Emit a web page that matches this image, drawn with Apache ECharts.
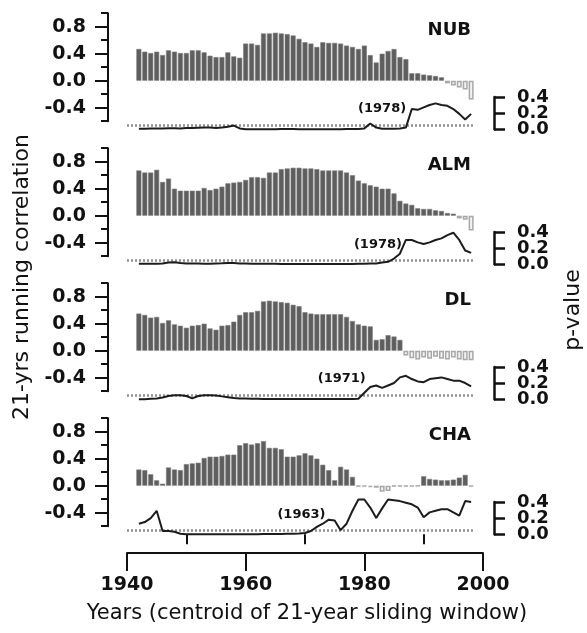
<!DOCTYPE html>
<html><head><meta charset="utf-8">
<script src="https://cdn.jsdelivr.net/npm/echarts@6/dist/echarts.min.js"></script>
<style>html,body{margin:0;padding:0;background:#fff}#c{width:587px;height:633px}</style>
</head><body><div id="c"></div>
<script>
// ---- data ----
const years = [1942,1943,1944,1945,1946,1947,1948,1949,1950,1951,1952,1953,1954,1955,1956,1957,1958,1959,
  1960,1961,1962,1963,1964,1965,1966,1967,1968,1969,1970,1971,1972,1973,1974,1975,1976,1977,1978,1979,
  1980,1981,1982,1983,1984,1985,1986,1987,1988,1989,1990,1991,1992,1993,1994,1995,1996,1997,1998];

const sites = ['NUB','ALM','DL','CHA'];

const nubCorr = [0.47,0.43,0.41,0.43,0.38,0.45,0.43,0.41,0.41,0.45,0.45,0.42,0.37,0.35,0.35,0.42,0.36,0.34,
  0.55,0.55,0.53,0.70,0.70,0.71,0.70,0.69,0.67,0.62,0.57,0.55,0.50,0.57,0.56,0.56,0.55,0.52,0.50,0.47,
  0.52,0.38,0.27,0.40,0.44,0.47,0.35,0.32,0.11,0.11,0.09,0.08,0.07,0.05,-0.04,-0.07,-0.10,-0.13,-0.28];
const nubP = [0.005,0.005,0.008,0.01,0.01,0.012,0.012,0.01,0.015,0.015,0.018,0.02,0.02,0.015,0.02,0.03,0.045,0.01,
  0.0,0.0,0.0,0.0,0.0,0.0,0.002,0.002,0.002,0.0,0.0,0.0,0.0,0.0,0.0,0.0,0.0,0.002,0.002,0.003,
  0.01,0.07,0.02,0.005,0.005,0.005,0.008,0.02,0.25,0.24,0.27,0.30,0.32,0.30,0.29,0.25,0.19,0.12,0.19];

const almCorr = [0.67,0.64,0.64,0.68,0.50,0.55,0.40,0.37,0.37,0.37,0.37,0.41,0.38,0.40,0.43,0.48,0.49,0.50,
  0.53,0.57,0.57,0.56,0.64,0.64,0.69,0.70,0.71,0.71,0.70,0.70,0.69,0.67,0.67,0.67,0.67,0.64,0.60,0.52,
  0.48,0.45,0.43,0.40,0.40,0.33,0.22,0.18,0.16,0.11,0.10,0.10,0.08,0.07,0.04,0.03,-0.04,-0.06,-0.22];
const almP = [0.005,0.005,0.005,0.005,0.01,0.02,0.025,0.015,0.01,0.008,0.008,0.006,0.006,0.01,0.012,0.015,0.015,0.01,
  0.008,0.005,0.005,0.005,0.005,0.005,0.003,0.003,0.003,0.003,0.003,0.003,0.003,0.003,0.003,0.003,0.003,0.003,0.003,0.005,
  0.005,0.008,0.01,0.02,0.03,0.07,0.13,0.30,0.30,0.27,0.25,0.27,0.30,0.32,0.36,0.39,0.30,0.17,0.14];

const dlCorr = [0.55,0.53,0.49,0.50,0.41,0.45,0.39,0.37,0.34,0.37,0.38,0.40,0.33,0.31,0.37,0.38,0.43,0.53,
  0.57,0.57,0.59,0.73,0.74,0.73,0.72,0.71,0.68,0.66,0.57,0.55,0.54,0.54,0.54,0.54,0.54,0.50,0.44,0.39,
  0.37,0.36,0.16,0.17,0.23,0.21,0.16,-0.07,-0.11,-0.13,-0.10,-0.12,-0.09,-0.12,-0.13,-0.10,-0.13,-0.14,-0.14];
const dlP = [0.0,0.0,0.005,0.01,0.02,0.04,0.05,0.05,0.04,0.01,0.04,0.05,0.05,0.045,0.035,0.025,0.015,0.01,
  0.008,0.006,0.005,0.004,0.004,0.004,0.004,0.004,0.003,0.003,0.003,0.003,0.003,0.003,0.003,0.003,0.003,0.003,0.004,0.006,
  0.08,0.15,0.17,0.14,0.17,0.20,0.27,0.29,0.25,0.22,0.21,0.25,0.26,0.27,0.25,0.23,0.23,0.20,0.16];

const chaCorr = [0.24,0.23,0.17,0.08,0.03,0.27,0.24,0.23,0.32,0.33,0.34,0.41,0.43,0.43,0.44,0.46,0.46,0.60,
  0.63,0.61,0.63,0.66,0.56,0.56,0.54,0.43,0.43,0.45,0.48,0.45,0.40,0.31,0.23,0.08,0.28,0.24,0.13,-0.01,
  -0.01,-0.02,-0.03,-0.09,-0.08,-0.01,-0.01,-0.01,-0.01,-0.005,0.14,0.10,0.09,0.08,0.08,0.09,0.12,0.16,-0.01];
const chaP = [0.13,0.15,0.20,0.29,0.04,0.04,0.03,0.005,0.0,0.0,0.0,0.0,0.0,0.0,0.0,0.0,0.0,0.0,
  0.0,0.0,0.0,0.002,0.002,0.003,0.004,0.005,0.006,0.008,0.015,0.04,0.09,0.13,0.18,0.17,0.05,0.13,0.29,0.43,
  0.43,0.33,0.20,0.32,0.43,0.42,0.41,0.39,0.37,0.33,0.21,0.27,0.29,0.31,0.31,0.27,0.23,0.41,0.40];

const breakLabels = ['(1978)','(1978)','(1971)','(1963)'];
const breakAnchorYear = [1987.3, 1986.6, 1980.5, 1973.7];
const breakAnchorP = [0.25, 0.24, 0.25, 0.245];
const sigLevel = 0.05;
const sigFrom = 1940, sigTo = 1998.3;

const corrTicks = [-0.4, 0, 0.4, 0.8];
const corrMinorTicks = [-0.6, -0.2, 0.2, 0.6, 1.0];
const pTicks = [0, 0.2, 0.4];
const yearTicks = [1940, 1960, 1980, 2000];
const yearMinorTicks = [1950, 1970, 1990];

// ---- layout / style ----
const corrSeries = [nubCorr, almCorr, dlCorr, chaCorr];
const pSeries = [nubP, almP, dlP, chaP];
const FONT = 'DejaVu Sans';
const INK = '#111';
const Z0 = 80.7, STEP = 135, CU = 67.5, PU = 80.75, POFF = 48.5;
const LEFT = 127, WIDTH = 356;
const POS = {color:'#5e5e5e', borderColor:'#7c7c7c', borderWidth:0.6};
const NEG = {color:'#f3f3f3', borderColor:'#a8a8a8', borderWidth:1.5};
const LBL = {fontSize:19, fontWeight:'bold', fontFamily:FONT, color:INK};

const grid = [], xAxis = [], yAxis = [], series = [], title = [];
for (let k = 0; k < 4; k++) {
  const Z = Z0 + STEP * k;
  grid.push({left: LEFT, width: WIDTH, top: Z - CU * 1.0, height: CU * 1.6});
  grid.push({left: LEFT, width: WIDTH, top: Z + POFF - PU * 0.4, height: PU * 0.4});
  xAxis.push({type:'value', gridIndex: 2*k, min:1940, max:2000, show:false});
  if (k < 3) {
    xAxis.push({type:'value', gridIndex: 2*k+1, min:1940, max:2000, show:false});
  } else {
    xAxis.push({type:'value', gridIndex: 7, min:1940, max:2000, position:'bottom',
      offset: 553 - (Z + POFF),
      axisLine:{show:true, onZero:false, lineStyle:{color:INK, width:2}},
      axisTick:{show:true, customValues: yearTicks, length:18, lineStyle:{color:INK, width:2}},
      axisLabel:Object.assign({show:true, customValues: yearTicks, margin:23, showMinLabel:true, showMaxLabel:true,
        formatter: v => String(Math.round(v))}, LBL),
      splitLine:{show:false}});
  }
  const barY = yAxis.length;
  // correlation axis: line + major ticks + labels
  yAxis.push({type:'value', gridIndex: 2*k, min:-0.6, max:1.0, position:'left', offset:19,
    axisLine:{show:true, onZero:false, lineStyle:{color:INK, width:2}},
    axisTick:{show:true, customValues: corrTicks, length:13, lineStyle:{color:INK, width:2}},
    axisLabel:Object.assign({show:true, customValues: corrTicks, formatter: v => Number(v).toFixed(1), margin:22}, LBL),
    splitLine:{show:false}});
  // correlation axis: minor ticks
  yAxis.push({type:'value', gridIndex: 2*k, min:-0.6, max:1.0, position:'left', offset:19,
    axisLine:{show:false},
    axisTick:{show:true, customValues: corrMinorTicks, length:7, lineStyle:{color:INK, width:2}},
    axisLabel:{show:false}, splitLine:{show:false}});
  // p-value axis line
  const pY = yAxis.length;
  yAxis.push({type:'value', gridIndex: 2*k+1, min:0, max:0.4, position:'right', offset:11,
    axisLine:{show:true, onZero:false, lineStyle:{color:INK, width:2.5}},
    axisTick:{show:false}, axisLabel:{show:false}, splitLine:{show:false}});
  // p-value ticks + labels, one axis per tick so none get hidden by overlap
  pTicks.forEach(t => {
    yAxis.push({type:'value', gridIndex: 2*k+1, min:0, max:0.4, position:'right', offset:11,
      axisLine:{show:false},
      axisTick:{show:true, customValues:[t], length:11, lineStyle:{color:INK, width:2.5}},
      axisLabel:Object.assign({show:true, customValues:[t], formatter: v => Number(v).toFixed(1), margin:23,
        showMinLabel:true, showMaxLabel:true, hideOverlap:false}, LBL, {fontSize:18}),
      splitLine:{show:false}});
  });

  const corr = corrSeries[k], p = pSeries[k];
  series.push({type:'bar', xAxisIndex: 2*k, yAxisIndex: barY, barWidth:5, silent:true,
    data: years.map((y, i) => ({value:[y, corr[i]], itemStyle: corr[i] < 0 ? NEG : POS}))});
  series.push({type:'line', xAxisIndex: 2*k+1, yAxisIndex: pY, silent:true, clip:false,
    showSymbol:false, symbol:'none', z:3,
    lineStyle:{color:'#1c1c1c', width:2},
    data: years.map((y, i) => [y, p[i]]),
    markLine:{silent:true, symbol:'none', label:{show:false}, z:2,
      lineStyle:{color:'#8e8e8e', type:[2,2], width:2.5},
      data:[[{coord:[sigFrom, sigLevel]}, {coord:[sigTo, sigLevel]}]]},
    markPoint:{silent:true, symbol:'circle', symbolSize:1, itemStyle:{color:'rgba(0,0,0,0)'},
      label:{show:true, position:'left', distance:1, formatter:'{b}', fontSize:13, fontWeight:'bold',
        fontFamily:FONT, color:INK},
      data:[{name: breakLabels[k], coord:[breakAnchorYear[k], breakAnchorP[k]]}]}
  });
  title.push({text: sites[k], right: 116, top: Z - 49 - 10, padding:0,
    textStyle:{fontSize:18, fontWeight:'bold', fontFamily:FONT, color:INK}});
}
xAxis.push({type:'value', gridIndex: 7, min:1940, max:2000, position:'bottom',
  offset: 553 - (Z0 + STEP*3 + POFF),
  axisLine:{show:false},
  axisTick:{show:true, customValues: yearMinorTicks, length:10, lineStyle:{color:INK, width:2}},
  axisLabel:{show:false}, splitLine:{show:false}});

const txt = (s, size) => ({text:s, font: size + 'px "DejaVu Sans"', fill:INK,
  textAlign:'center', textVerticalAlign:'middle', align:'center', verticalAlign:'middle'});

const chart = echarts.init(document.getElementById('c'));
chart.setOption({
  animation:false,
  backgroundColor:'#fff',
  title, grid, xAxis, yAxis, series,
  graphic:[
    {type:'text', x:22, y:277, rotation: Math.PI/2, style: txt('21-yrs running correlation', 22)},
    {type:'text', x:573, y:310, rotation: Math.PI/2, style: txt('p-value', 22)},
    {type:'text', x:307, y:614, style: txt('Years (centroid of 21-year sliding window)', 21)}
  ]
});
</script></body></html>
